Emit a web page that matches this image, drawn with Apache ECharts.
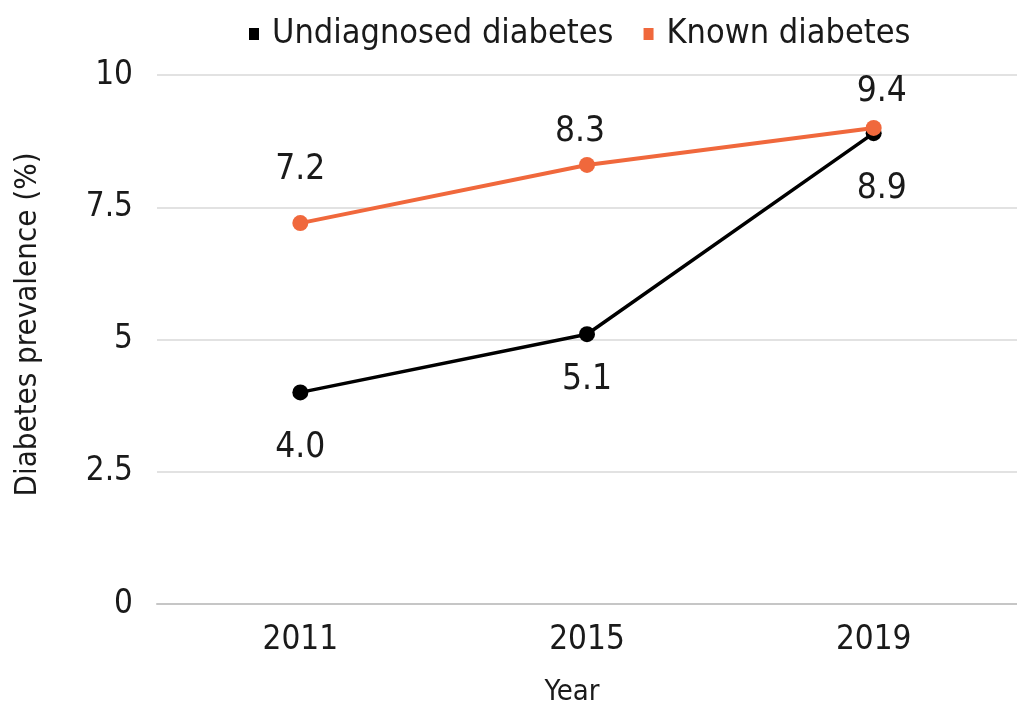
<!DOCTYPE html>
<html>
<head>
<meta charset="utf-8">
<script src="https://cdn.jsdelivr.net/npm/echarts@6/dist/echarts.min.js"></script>
<style>
html,body{margin:0;padding:0;background:#fff;overflow:hidden;width:1017px;height:712px;}
#chart{width:1017px;height:712px;}
</style>
</head>
<body>
<div id="chart"></div>
<script>
// ---- data ----
const years = ["2011", "2015", "2019"];
const seriesNames = ["Undiagnosed diabetes", "Known diabetes"];
const undiagnosedValues = [4.0, 5.1, 8.9];
const undiagnosedLabels = ["4.0", "5.1", "8.9"];
const knownValues = [7.2, 8.3, 9.0];
const knownLabels = ["7.2", "8.3", "9.4"];
const yTicks = [0, 2.5, 5, 7.5, 10];

// ---- styling ----
const FONT = "'DejaVu Sans Condensed', 'DejaVu Sans', Verdana, sans-serif";
const ORANGE = '#F0683C';
const BLACK = '#000000';
const TEXT = '#1a1a1a';
const undiagLabelStyle = [
  {distance: 30, offset: [0, 0]},
  {distance: 20, offset: [0, 0]},
  {distance: 30, offset: [8, 0]}
];
const knownLabelStyle = [
  {distance: 28, offset: [0, 0]},
  {distance: 8, offset: [-7, 0]},
  {distance: 10, offset: [8, 0]}
];

function buildData(values, labels, styles, pos) {
  return values.map((v, i) => ({
    value: v,
    label: {
      show: true,
      position: pos,
      distance: styles[i].distance,
      offset: styles[i].offset,
      formatter: labels[i]
    }
  }));
}

const chart = echarts.init(document.getElementById('chart'), null, {renderer: 'canvas', width: 1017, height: 712});
chart.setOption({
  animation: false,
  backgroundColor: '#ffffff',
  textStyle: {fontFamily: FONT},
  legend: {
    left: 244,
    top: 12,
    icon: 'rect',
    itemWidth: 10,
    itemHeight: 12,
    itemGap: 30,
    textStyle: {fontFamily: FONT, fontSize: 34, color: TEXT, padding: [0, 0, 0, 8]},
    data: seriesNames
  },
  grid: {left: 157, right: -13, top: 75, bottom: 102, containLabel: false},
  xAxis: {
    type: 'category',
    data: years,
    boundaryGap: true,
    name: 'Year',
    nameLocation: 'middle',
    nameGap: 74,
    nameTextStyle: {fontFamily: FONT, fontSize: 29, color: TEXT, padding: [0, 30, 0, 0]},
    axisLine: {show: true, lineStyle: {color: '#c6c6c6', width: 2}},
    axisTick: {show: false},
    axisLabel: {fontFamily: FONT, fontSize: 33, color: TEXT, margin: 20}
  },
  yAxis: {
    type: 'value',
    min: yTicks[0],
    max: yTicks[yTicks.length - 1],
    interval: yTicks[1] - yTicks[0],
    name: 'Diabetes prevalence (%)',
    nameLocation: 'middle',
    nameGap: 114,
    nameTextStyle: {fontFamily: FONT, fontSize: 31, color: TEXT, padding: [0, 0, 0, 30]},
    axisLine: {show: false},
    axisTick: {show: false},
    axisLabel: {fontFamily: FONT, fontSize: 33, color: TEXT, margin: 24},
    splitLine: {show: true, lineStyle: {color: '#d9d9d9', width: 1.5}}
  },
  series: [
    {
      name: seriesNames[0],
      type: 'line',
      data: buildData(undiagnosedValues, undiagnosedLabels, undiagLabelStyle, 'bottom'),
      symbol: 'circle',
      symbolSize: 16,
      itemStyle: {color: BLACK},
      lineStyle: {color: BLACK, width: 3.5},
      label: {fontFamily: FONT, fontSize: 35, color: TEXT},
      z: 2
    },
    {
      name: seriesNames[1],
      type: 'line',
      data: buildData(knownValues, knownLabels, knownLabelStyle, 'top'),
      symbol: 'circle',
      symbolSize: 16,
      itemStyle: {color: ORANGE},
      lineStyle: {color: ORANGE, width: 4},
      label: {fontFamily: FONT, fontSize: 35, color: TEXT},
      z: 3
    }
  ]
});
</script>
</body>
</html>
